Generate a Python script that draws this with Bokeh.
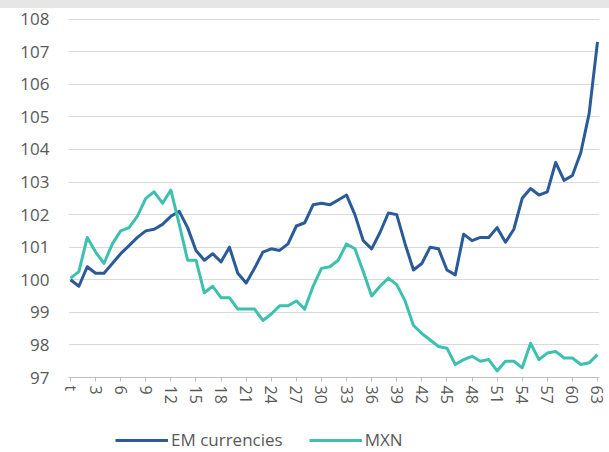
from bokeh.plotting import figure
from bokeh.models import Range1d, FixedTicker, Legend, LegendItem, Div
from bokeh.layouts import column
from bokeh.embed import file_html
from bokeh.resources import INLINE

# ---- data ----
periods = list(range(0, 64))
tick_positions = list(range(0, 64, 3))
tick_labels = {0: "t"}
y_ticks = list(range(97, 109))

em_currencies = [
    100.0, 99.8, 100.4, 100.2, 100.2, 100.5, 100.8, 101.05, 101.3, 101.5,
    101.55, 101.7, 101.95, 102.1, 101.6, 100.9, 100.6, 100.8, 100.55, 101.0,
    100.2, 99.9, 100.35, 100.85, 100.95, 100.9, 101.1, 101.65, 101.75, 102.3,
    102.35, 102.3, 102.45, 102.6, 102.0, 101.2, 100.95, 101.45, 102.05, 102.0,
    101.1, 100.3, 100.5, 101.0, 100.95, 100.3, 100.15, 101.4, 101.2, 101.3,
    101.3, 101.6, 101.15, 101.55, 102.5, 102.8, 102.6, 102.7, 103.6, 103.05,
    103.2, 103.9, 105.1, 107.3,
]
mxn = [
    100.05, 100.25, 101.3, 100.85, 100.5, 101.1, 101.5, 101.6, 101.95, 102.5,
    102.7, 102.35, 102.75, 101.7, 100.6, 100.6, 99.6, 99.8, 99.45, 99.45,
    99.1, 99.1, 99.1, 98.75, 98.95, 99.2, 99.2, 99.35, 99.1, 99.8,
    100.35, 100.4, 100.6, 101.1, 100.95, 100.25, 99.5, 99.8, 100.05, 99.85,
    99.35, 98.6, 98.35, 98.15, 97.95, 97.9, 97.4, 97.55, 97.65, 97.5,
    97.55, 97.2, 97.5, 97.5, 97.3, 98.05, 97.55, 97.75, 97.8, 97.6,
    97.6, 97.4, 97.45, 97.7,
]
series_names = ["EM currencies", "MXN"]
series_colors = ["#2a5b98", "#3dc0ae"]

FONT = "Open Sans"
TEXT_COLOR = "#595959"

# light grey strip along the top edge
band = Div(text="", width=609, height=8, margin=0,
           styles={"background-color": "#e6e6e6"})

# ---- main chart ----
p = figure(
    width=609, height=399,
    output_backend="svg", toolbar_location=None,
    x_range=Range1d(-0.24, 63.24), y_range=Range1d(97, 108.05),
    min_border_left=68, min_border_right=10, min_border_top=9, min_border_bottom=30,
)
p.outline_line_color = None
p.background_fill_color = "white"
p.border_fill_color = "white"

p.xgrid.visible = False
p.ygrid.grid_line_color = "#d9d9d9"
p.ygrid.grid_line_width = 1

p.yaxis.ticker = FixedTicker(ticks=y_ticks)
p.yaxis.axis_line_color = None
p.yaxis.major_tick_line_color = None
p.yaxis.minor_tick_line_color = None
p.yaxis.major_label_standoff = 13
p.yaxis.major_label_text_font = FONT
p.yaxis.major_label_text_font_size = "17px"
p.yaxis.major_label_text_color = TEXT_COLOR

p.xaxis.ticker = FixedTicker(ticks=tick_positions)
p.xaxis.major_label_overrides = tick_labels
p.xaxis.major_label_orientation = "vertical"
p.xaxis.axis_line_color = "#bfbfbf"
p.xaxis.major_tick_line_color = "#bfbfbf"
p.xaxis.major_tick_in = 0
p.xaxis.major_tick_out = 4
p.xaxis.minor_tick_line_color = None
p.xaxis.major_label_standoff = 4
p.xaxis.major_label_text_font = FONT
p.xaxis.major_label_text_font_size = "16px"
p.xaxis.major_label_text_color = TEXT_COLOR

p.line(periods, em_currencies, line_color=series_colors[0], line_width=3, line_join="round")
p.line(periods, mxn, line_color=series_colors[1], line_width=3, line_join="round")

# ---- legend strip (its lines lie outside its view; only the legend shows) ----
lg = figure(
    width=609, height=45,
    output_backend="svg", toolbar_location=None,
    x_range=Range1d(1000, 1001), y_range=Range1d(0, 1),
    x_axis_type=None, y_axis_type=None,
    min_border_left=0, min_border_right=0, min_border_top=0, min_border_bottom=0,
)
lg.outline_line_color = None
lg.grid.visible = False
lg.background_fill_color = "white"
lg.border_fill_color = "white"
l_em = lg.line(periods, em_currencies, line_color=series_colors[0], line_width=3)
l_mx = lg.line(periods, mxn, line_color=series_colors[1], line_width=3)

legend = Legend(
    items=[LegendItem(label=series_names[0], renderers=[l_em]),
           LegendItem(label=series_names[1], renderers=[l_mx])],
    location=(47, 1), orientation="horizontal",
    padding=0, margin=0, spacing=26,
    glyph_width=53, glyph_height=16, label_height=16,
    label_standoff=3,
    label_text_font=FONT, label_text_font_size="17px", label_text_color=TEXT_COLOR,
    background_fill_alpha=0, border_line_color=None,
)
lg.add_layout(legend, "center")

layout = column(band, p, lg, spacing=0)
open("out.html", "w").write(file_html(layout, INLINE))
